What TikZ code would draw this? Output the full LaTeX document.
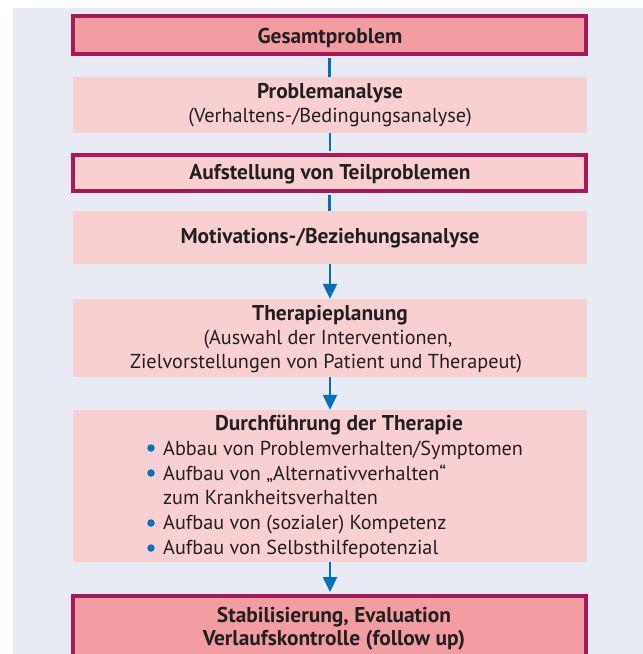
\documentclass[tikz,border=0pt]{standalone}
\usepackage{fontspec}
\setmainfont{PT Sans}
\usetikzlibrary{arrows.meta}
\definecolor{bgc}{HTML}{E8EAF4}
\definecolor{darkpink}{HTML}{F19DA1}
\definecolor{lightpink}{HTML}{F9D0D1}
\definecolor{bordc}{HTML}{A8195A}
\definecolor{linec}{HTML}{0071BC}
\definecolor{txt}{HTML}{231F20}
\tikzset{
  x=1pt, y=-1pt,
  lbox/.style={fill=lightpink, draw=none, inner sep=0pt, minimum width=514pt},
  dbox/.style={fill=#1, draw=bordc, line width=4pt, inner sep=0pt, minimum width=513pt},
  tx/.style={anchor=base, inner sep=0pt, text=txt, font=\fontsize{20.2pt}{24pt}\selectfont},
  tb/.style={tx, font=\fontsize{21.4pt}{24pt}\selectfont\bfseries},
  tl/.style={tx, anchor=base west},
  dot/.style={circle, fill=linec, inner sep=0pt, minimum size=7.5pt},
  conn/.style={draw=linec, line width=2.3pt},
  arr/.style={conn, -{Triangle[width=14pt,length=15pt]}},
}
\begin{document}
\begin{tikzpicture}
\useasboundingbox (0,0) rectangle (643,654);
\fill[bgc] (13,8) rectangle (643,654);
% boxes
\node[dbox=darkpink, minimum height=38pt] (g) at (329.5,35) {};
\node[lbox, minimum height=56pt] (pa) at (330,105) {};
\node[dbox=lightpink, minimum height=36pt] (tp) at (329.5,173) {};
\node[lbox, minimum height=53pt] (mb) at (330,237.5) {};
\node[lbox, minimum height=78pt] (th) at (330,338) {};
\node[lbox, minimum height=152pt] (df) at (330,486) {};
\node[dbox=darkpink, minimum height=76pt] (st) at (329.5,634) {};
% connectors
\draw[conn, shorten <=2pt] (g.south) -- (g.south |- pa.north);
\draw[conn, shorten >=2pt] (pa.south) -- (pa.south |- tp.north);
\draw[conn, shorten <=2pt] (tp.south) -- (tp.south |- mb.north);
\draw[arr] (mb.south) -- (th.north);
\draw[arr] (th.south) -- (df.north);
\draw[arr, shorten >=2pt] (df.south) -- (df.south |- st.north);
% texts
\node[tb] (t1) at (330,43) {Gesamtproblem};
\node[tb] (t2) at (330,98) {Problemanalyse};
\node[tx] (t3) at (330,122) {(Verhaltens-/Bedingungsanalyse)};
\node[tb] (t4) at (330,179) {Aufstellung von Teilproblemen};
\node[tb] (t5) at (330,243) {Motivations-/Beziehungsanalyse};
\node[tb] (t6) at (330,320) {Therapieplanung};
\node[tx] (t7) at (328,344) {(Auswahl der Interventionen,};
\node[tx] (t8) at (326,368) {Zielvorstellungen von Patient und Therapeut)};
\node[tb] (t9) at (339,430) {Durchführung der Therapie};
\node[dot] (b1) at (151,448) {};
\node[tl] (l1) at (163,455) {Abbau von Problemverhalten/Symptomen};
\node[dot] (b2) at (151,473) {};
\node[tl] (l2) at (163,480) {Aufbau von „Alternativverhalten“};
\node[tl] (l3) at (163,504) {zum Krankheitsverhalten};
\node[dot] (b3) at (151,523) {};
\node[tl] (l4) at (163,529) {Aufbau von (sozialer) Kompetenz};
\node[dot] (b4) at (151,548) {};
\node[tl] (l5) at (163,554) {Aufbau von Selbsthilfepotenzial};
\node[tb] (t10) at (334,622) {Stabilisierung, Evaluation};
\node[tb] (t11) at (334,645) {Verlaufskontrolle (follow up)};
\end{tikzpicture}
\end{document}
